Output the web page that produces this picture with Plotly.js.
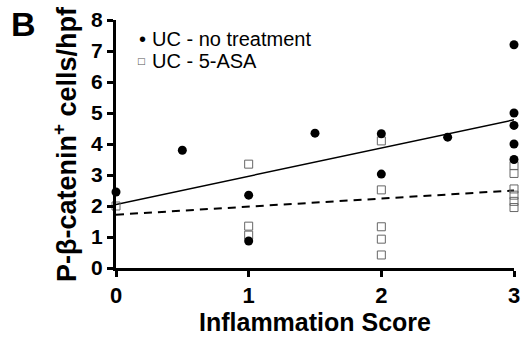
<!DOCTYPE html>
<html>
<head>
<meta charset="utf-8">
<script src="https://cdn.plot.ly/plotly-3.0.1.min.js"></script>
<style>html,body{margin:0;padding:0;background:#fff;}#chart{width:522px;height:337px;}</style>
</head>
<body>
<div id="chart"></div>
<script>
// Data
const noTxX = [0, 0.5, 1, 1, 1.5, 2, 2, 2.5, 3, 3, 3, 3, 3];
const noTxY = [2.45, 3.8, 2.35, 0.87, 4.35, 4.33, 3.03, 4.22, 7.2, 5.0, 4.6, 4.0, 3.5];
const asaX = [0, 1, 1, 1, 2, 2, 2, 2, 2, 3, 3, 3, 3, 3, 3];
const asaY = [2.0, 3.35, 1.35, 1.06, 4.1, 2.52, 1.33, 0.93, 0.42, 3.3, 3.05, 2.55, 2.35, 2.15, 1.95];
const trendX = [0, 3];
const trendNoTx = [2.05, 4.78];
const trendAsa = [1.72, 2.5];
const xTicks = [0, 1, 2, 3];
const yTicks = [0, 1, 2, 3, 4, 5, 6, 7, 8];
const seriesNames = ['UC - no treatment', 'UC - 5-ASA'];
const yTitle = 'P-β-catenin<sup>+</sup> cells/hpf';
const xTitle = 'Inflammation Score';

const FONT = 'Arial, "Liberation Sans", sans-serif';

const traces = [
  {x: trendX, y: trendNoTx, mode: 'lines', line: {color: '#000', width: 1.5}, showlegend: false, hoverinfo: 'skip', cliponaxis: false},
  {x: trendX, y: trendAsa, mode: 'lines', line: {color: '#000', width: 2, dash: '8px,6px'}, showlegend: false, hoverinfo: 'skip', cliponaxis: false},
  {x: asaX, y: asaY, mode: 'markers', name: seriesNames[1], showlegend: false,
   marker: {symbol: 'square-open', size: 8, color: '#666', line: {width: 1, color: '#666'}}, cliponaxis: false},
  {x: noTxX, y: noTxY, mode: 'markers', name: seriesNames[0], showlegend: false,
   marker: {symbol: 'circle', size: 9, color: '#000'}, cliponaxis: false}
];

const layout = {
  width: 522, height: 337,
  margin: {l: 116, r: 8, t: 20, b: 69},
  paper_bgcolor: '#fff', plot_bgcolor: '#fff',
  font: {family: FONT, color: '#000'},
  showlegend: false,
  xaxis: {
    range: [0, 3], tickvals: xTicks, ticktext: xTicks.map(String),
    showgrid: false, zeroline: false, showline: true, linecolor: '#000', linewidth: 3,
    ticks: 'outside', ticklen: 6, tickwidth: 3, tickcolor: '#000',
    tickfont: {family: FONT, size: 22, weight: 'bold'},
    title: {text: xTitle, font: {family: FONT, size: 25, weight: 'bold'}, standoff: 2}
  },
  yaxis: {
    range: [0, 8], tickvals: yTicks, ticktext: yTicks.map(String),
    showgrid: false, zeroline: false, showline: true, linecolor: '#000', linewidth: 3,
    ticks: 'outside', ticklen: 6, tickwidth: 3, tickcolor: '#000',
    tickfont: {family: FONT, size: 21, weight: 'bold'}
  },
  annotations: [
    {text: yTitle, xref: 'paper', yref: 'paper', x: -0.128, y: 0.50, xanchor: 'center', yanchor: 'middle',
     textangle: -90, showarrow: false, font: {family: FONT, size: 27, weight: 'bold', color: '#000'}},
    {text: 'B', xref: 'paper', yref: 'paper', x: -0.268, y: 1.07, xanchor: 'left', yanchor: 'top',
     showarrow: false, font: {family: FONT, size: 34, weight: 'bold', color: '#000'}},
    {text: '•', xref: 'paper', yref: 'paper', x: 0.067, y: 0.925, xanchor: 'center', yanchor: 'middle',
     showarrow: false, font: {family: FONT, size: 20, color: '#000'}},
    {text: seriesNames[0], xref: 'paper', yref: 'paper', x: 0.085, y: 0.925, xanchor: 'left', yanchor: 'middle',
     showarrow: false, font: {family: FONT, size: 20, color: '#000'}},
    {text: '□', xref: 'paper', yref: 'paper', x: 0.065, y: 0.835, xanchor: 'center', yanchor: 'middle',
     showarrow: false, font: {family: '"DejaVu Sans", sans-serif', size: 9, color: '#555'}},
    {text: seriesNames[1], xref: 'paper', yref: 'paper', x: 0.085, y: 0.835, xanchor: 'left', yanchor: 'middle',
     showarrow: false, font: {family: FONT, size: 20, color: '#000'}}
  ]
};

Plotly.newPlot('chart', traces, layout, {displayModeBar: false, staticPlot: true});
</script>
</body>
</html>
